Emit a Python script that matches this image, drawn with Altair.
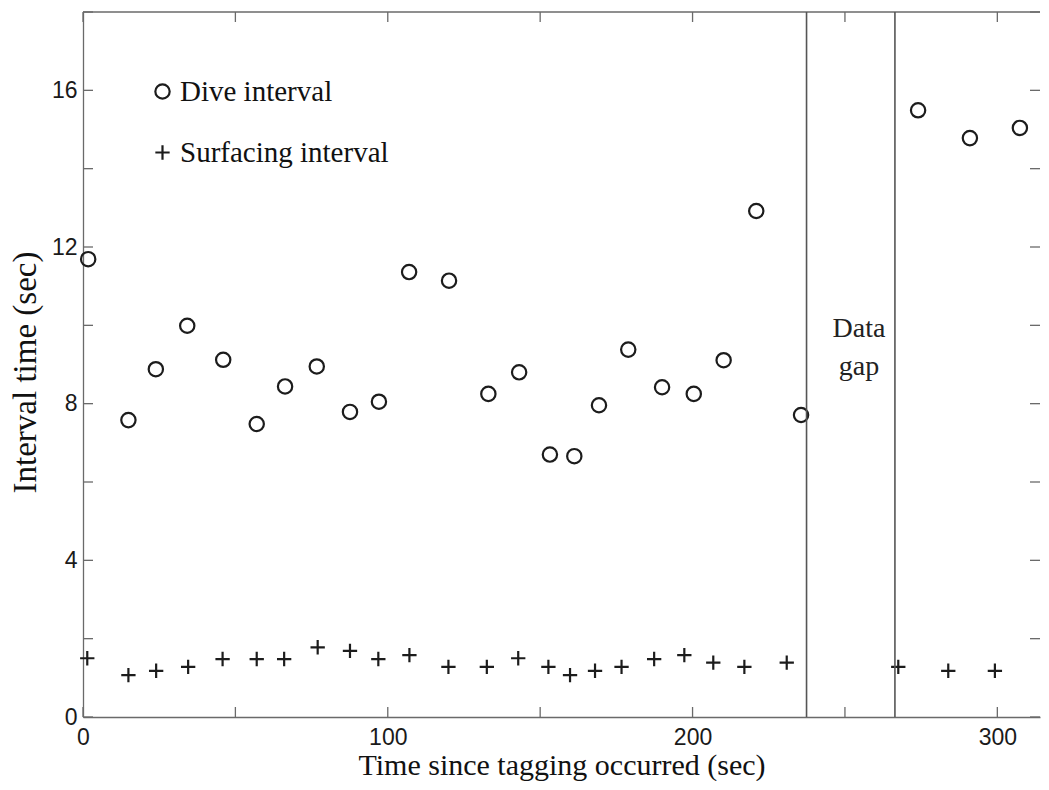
import altair as alt
import pandas as pd

# ---- data ----
dive_time = [1.7, 14.9, 23.9, 34.2, 46.0, 57.0, 66.3, 76.7, 87.6, 97.1, 107.0, 120.1, 133.0,
             143.1, 153.2, 161.2, 169.3, 178.9, 190.0, 200.4, 210.2, 220.9, 235.6, 274.0, 291.0, 307.4]
dive_interval = [11.69, 7.58, 8.88, 9.99, 9.12, 7.48, 8.44, 8.95, 7.79, 8.05, 11.36, 11.14, 8.25,
                 8.80, 6.70, 6.66, 7.96, 9.38, 8.42, 8.25, 9.11, 12.92, 7.71, 15.49, 14.78, 15.04]
surf_time = [1.4, 14.9, 24.0, 34.5, 45.8, 57.0, 66.0, 77.0, 87.6, 96.9, 107.1, 119.9, 132.5,
             142.8, 152.7, 159.8, 168.0, 176.7, 187.4, 197.3, 206.8, 217.0, 230.9, 267.5, 283.9, 299.2]
surf_interval = [1.50, 1.07, 1.18, 1.28, 1.48, 1.48, 1.48, 1.78, 1.69, 1.48, 1.58, 1.28, 1.28,
                 1.50, 1.28, 1.07, 1.18, 1.28, 1.48, 1.58, 1.39, 1.28, 1.39, 1.28, 1.18, 1.18]
series_names = ["Dive interval", "Surfacing interval"]
gap_edges = [237.4, 266.4]
gap_words = ["Data", "gap"]
gap_word_time = [254.6, 254.6]
gap_word_level = [9.71, 8.74]
x_tick_values = [0, 50, 100, 150, 200, 250, 300]
x_label_values = [0, 100, 200, 300]
y_tick_values = [0, 2, 4, 6, 8, 10, 12, 14, 16, 18]
y_label_values = [0, 4, 8, 12, 16]
x_max = 314
y_max = 18

W, H = 957, 705
AX = "#6a6a6a"
INK = "#1c1c1c"
SERIF = "Liberation Serif"
SANS = "Liberation Sans"
PLUS = "M-1,0H1M0,-1V1"

points = pd.DataFrame({
    "time": dive_time + surf_time,
    "interval": dive_interval + surf_interval,
    "series": [series_names[0]] * len(dive_time) + [series_names[1]] * len(surf_time),
})

xs = alt.Scale(domain=[0, x_max], nice=False, zero=False)
ys = alt.Scale(domain=[0, y_max], nice=False)

x_axis = alt.Axis(values=x_label_values, title="Time since tagging occurred (sec)", labelPadding=9,
                  labelFlush=False, titleY=57, titleBaseline="alphabetic", titleFontSize=30)
y_axis = alt.Axis(values=y_label_values, title="Interval time (sec)", labelPadding=6, labelFlush=False,
                  titleX=-58, titleY=360, titleAngle=270, titleBaseline="middle", titleAlign="center",
                  titleFontSize=33)


def X(field="time"):
    return alt.X(f"{field}:Q", scale=xs, axis=x_axis)


def Y(field="interval"):
    return alt.Y(f"{field}:Q", scale=ys, axis=y_axis)


pts = alt.Chart(points).mark_point(filled=False, strokeWidth=2.2, color=INK, size=205, opacity=1).encode(
    x=X(), y=Y(),
    shape=alt.Shape("series:N", scale=alt.Scale(domain=series_names, range=["circle", PLUS]),
                    legend=alt.Legend(title=None, orient="none", legendX=65, legendY=65)),
)

xt = pd.DataFrame({"time": x_tick_values})
yt = pd.DataFrame({"interval": y_tick_values})

bottom_ticks = alt.Chart(xt).mark_rule(color=AX, strokeWidth=1.3).encode(
    x=X(), y=alt.value(H), y2=alt.value(H - 10))
top_ticks = alt.Chart(xt).mark_rule(color=AX, strokeWidth=1.3).encode(
    x=X(), y=alt.value(0), y2=alt.value(10))
left_ticks = alt.Chart(yt).mark_rule(color=AX, strokeWidth=1.3).encode(
    y=Y(), x=alt.value(0), x2=alt.value(10))
right_ticks = alt.Chart(yt).mark_rule(color=AX, strokeWidth=1.3).encode(
    y=Y(), x=alt.value(W - 10), x2=alt.value(W))
top_frame = alt.Chart(pd.DataFrame({"interval": [y_max]})).mark_rule(color=AX, strokeWidth=1.3).encode(
    y=Y())

gap_lines = alt.Chart(pd.DataFrame({"time": gap_edges})).mark_rule(color="#555555", strokeWidth=1.6).encode(
    x=X())
gap_text = alt.Chart(pd.DataFrame({"time": gap_word_time, "interval": gap_word_level, "word": gap_words})).mark_text(
    font=SERIF, fontSize=28, color="#222222", align="center", baseline="alphabetic").encode(
    x=X(), y=Y(), text="word:N")

chart = alt.layer(
    pts, top_frame, bottom_ticks, top_ticks, left_ticks, right_ticks, gap_lines, gap_text
).properties(
    width=W, height=H,
    autosize=alt.AutoSizeParams(type="none"),
    padding={"left": 75, "top": 4, "right": 1, "bottom": 64},
    background="white",
).configure_view(stroke="transparent").configure_axis(
    domainColor=AX, domainWidth=1.3, ticks=False, tickSize=0, grid=False,
    labelFont=SANS, labelFontSize=23, labelColor="#1a1a1a",
    titleFont=SERIF, titleFontWeight="normal", titleColor="#111111",
).configure_legend(
    labelFont=SERIF, labelFontSize=29, labelColor="#111111", labelOffset=3, labelLimit=400,
    symbolSize=205, symbolStrokeWidth=2.2, symbolStrokeColor=INK, symbolFillColor="transparent",
    rowPadding=31, padding=0,
)

chart.save("out.html", embed_options={"renderer": "svg", "actions": False})
